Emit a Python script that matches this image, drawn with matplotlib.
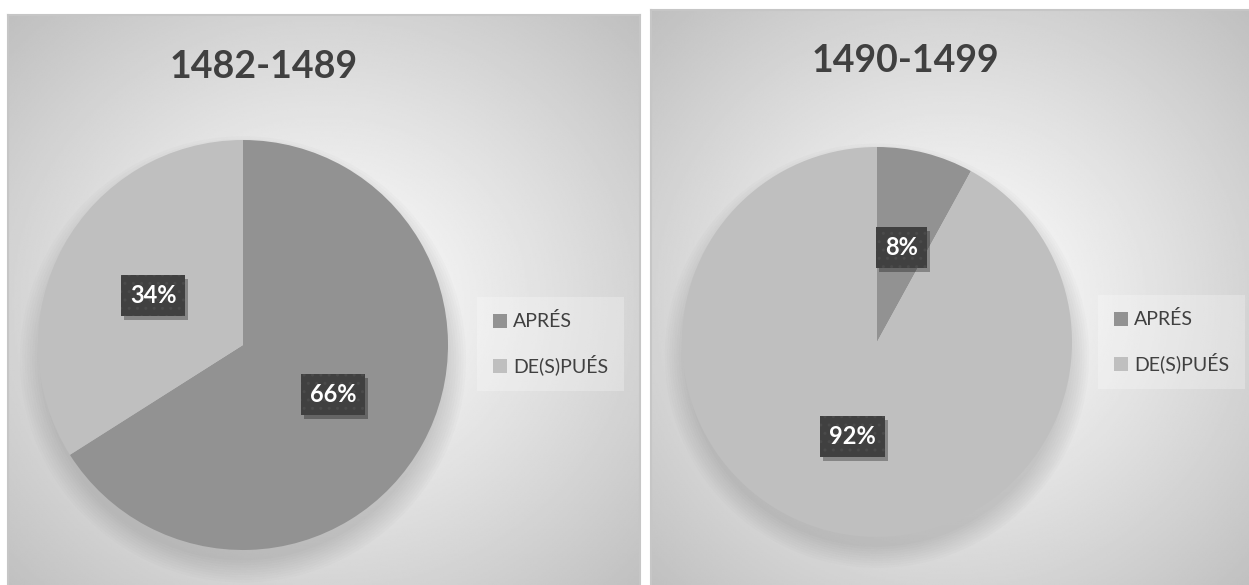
import numpy as np
import matplotlib
matplotlib.use('Agg')
import matplotlib.pyplot as plt
from matplotlib.patches import Circle, Rectangle

plt.rcParams['font.family'] = ['Lato', 'DejaVu Sans']

# datos
categorias = ['APRÉS', 'DE(S)PUÉS']
periodos = ['1482-1489', '1490-1499']
valores_1 = [66, 34]
valores_2 = [8, 92]
colores = ['#929292', '#bfbfbf']

W, H = 1249, 585
fig = plt.figure(figsize=(W / 100, H / 100), dpi=100)
fig.patch.set_facecolor('white')


def px(x0, y0, x1, y1):
    # caja en pixeles (origen arriba a la izquierda) -> fraccion de figura
    return [x0 / W, 1 - y1 / H, (x1 - x0) / W, (y1 - y0) / H]


def fondo(rect):
    ax = fig.add_axes(rect, zorder=0)
    yy, xx = np.mgrid[-1:1:300j, -1:1:400j]
    r = np.sqrt(xx ** 2 + yy ** 2) / np.sqrt(2)
    img = 1 - 0.25 * r ** 1.1
    ax.imshow(img, cmap='gray', vmin=0, vmax=1, extent=(0, 1, 0, 1),
              aspect='auto', interpolation='bilinear')
    ax.set_xticks([])
    ax.set_yticks([])
    for s in ax.spines.values():
        s.set_color('#c6c6c6')
        s.set_linewidth(1.5)
    return ax


def tarta(rect, valores):
    ax = fig.add_axes(rect, zorder=2)
    ax.set_aspect('equal')
    ax.axis('off')
    # sombra difusa bajo la tarta
    for i in range(10):
        ax.add_patch(Circle((0, -0.07), 0.98 + 0.012 * i, color='#7a7a7a',
                            alpha=0.03, lw=0, clip_on=False, zorder=0))
    wedges, _, autotexts = ax.pie(valores, colors=colores, startangle=90,
                                  counterclock=False, radius=1,
                                  autopct='%1.0f%%', pctdistance=0.5,
                                  wedgeprops=dict(linewidth=0, zorder=2),
                                  textprops=dict(color='white', fontsize=17,
                                                 fontweight='bold'))
    ax.set_xlim(-1, 1)
    ax.set_ylim(-1, 1)
    for t in autotexts:
        t.set_zorder(5)
        t.set_bbox(dict(boxstyle='square,pad=0.38', facecolor='#404040',
                        edgecolor='#4a4a4a', hatch='..', linewidth=0))
    return ax, wedges, autotexts


def leyenda(ax, wedges, anchor):
    leg = ax.legend(wedges, categorias, loc='center left',
                    bbox_to_anchor=anchor, bbox_transform=fig.transFigure,
                    fontsize=14, labelcolor='#404040', frameon=True,
                    handlelength=0.75, handleheight=0.75, handletextpad=0.3,
                    labelspacing=1.25, borderpad=0.8, fancybox=False,
                    borderaxespad=0)
    leg.get_frame().set_facecolor('white')
    leg.get_frame().set_alpha(0.25)
    leg.get_frame().set_linewidth(0)


def sombras(ax, textos):
    # sombra de las etiquetas, a partir de la caja ya dibujada
    fig.canvas.draw()
    for t in textos:
        bb = t.get_bbox_patch().get_window_extent()
        ax.add_patch(Rectangle((bb.x0 + 3, bb.y0 - 4), bb.width, bb.height,
                               transform=None, facecolor='black', alpha=0.3,
                               lw=0, zorder=4))


# panel izquierdo
fondo(px(8, 15, 640, 592))
ax1, w1, t1 = tarta(px(243 - 205, 345 - 205, 243 + 205, 345 + 205), valores_1)
leyenda(ax1, w1, (477 / W, 1 - 344 / H))
fig.text(264 / W, 1 - 67 / H, periodos[0], ha='center', va='center',
         fontsize=27, fontweight='bold', color='#404040')

# panel derecho
fondo(px(651, 10, 1252, 592))
ax2, w2, t2 = tarta(px(877 - 195, 342 - 195, 877 + 195, 342 + 195), valores_2)
leyenda(ax2, w2, (1098 / W, 1 - 342 / H))
fig.text(905 / W, 1 - 61 / H, periodos[1], ha='center', va='center',
         fontsize=27, fontweight='bold', color='#404040')

sombras(ax1, t1)
sombras(ax2, t2)

fig.savefig('out.png', dpi=100)
